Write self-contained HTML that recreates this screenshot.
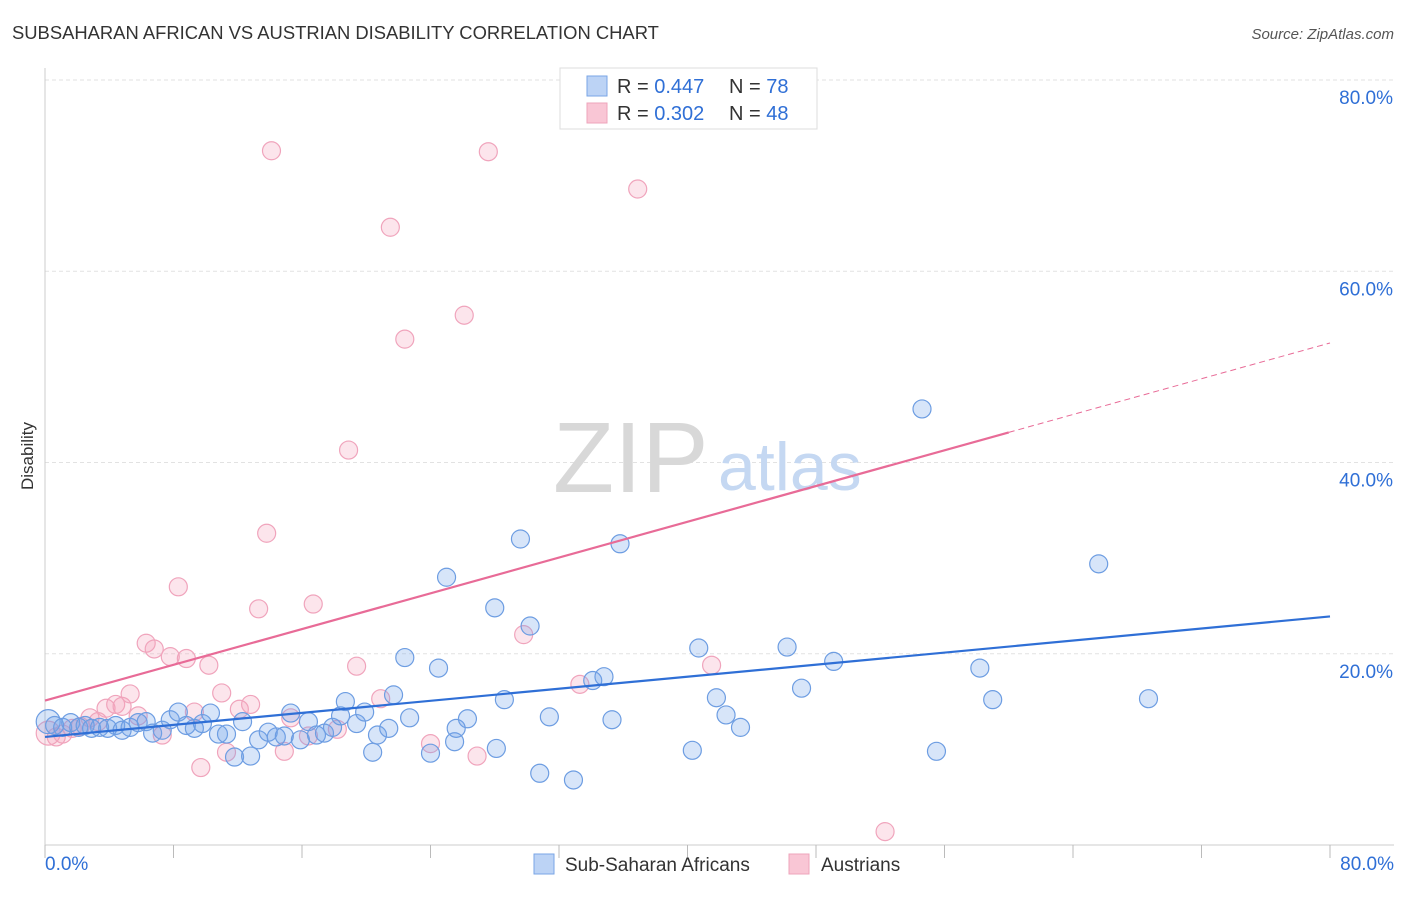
<!DOCTYPE html>
<html><head><meta charset="utf-8">
<style>
body{margin:0;background:#fff;font-family:"Liberation Sans",sans-serif;}
svg text{font-family:"Liberation Sans",sans-serif;}
</style></head>
<body>
<svg width="1406" height="892" viewBox="0 0 1406 892" id="chart">
<text x="12" y="39" font-size="18.4" fill="#333">SUBSAHARAN AFRICAN VS AUSTRIAN DISABILITY CORRELATION CHART</text>
<text x="1394" y="39" font-size="15" fill="#555" font-style="italic" text-anchor="end">Source: ZipAtlas.com</text>
<text x="33" y="456" font-size="17" fill="#333" transform="rotate(-90 33 456)" text-anchor="middle">Disability</text>
<g id="grid"></g>
<g id="yticks"></g>
<g id="xticks"></g>
<text x="553" y="492" font-size="100" fill="#d8d8d8" font-family="Liberation Serif">ZIP</text>
<text x="718" y="490" font-size="68" fill="#c5d8f2">atlas</text>
<g id="pts"></g>
<g id="lines"></g>
<g>
<rect x="560" y="68" width="257" height="61" fill="#fff" stroke="#ddd"/>
<rect x="587" y="76" width="20" height="20" fill="#bcd3f5" stroke="#7aa6e6"/>
<rect x="587" y="103" width="20" height="20" fill="#f9c6d5" stroke="#eea4bb"/>
<text x="617" y="93" font-size="20" fill="#333">R = <tspan fill="#2f6fd6">0.447</tspan></text>
<text x="729" y="93" font-size="20" fill="#333">N = <tspan fill="#2f6fd6">78</tspan></text>
<text x="617" y="120" font-size="20" fill="#333">R = <tspan fill="#2f6fd6">0.302</tspan></text>
<text x="729" y="120" font-size="20" fill="#333">N = <tspan fill="#2f6fd6">48</tspan></text>
</g>
<g>
<rect x="534" y="854" width="20" height="20" fill="#bcd3f5" stroke="#7aa6e6"/>
<text x="565" y="871" font-size="19" fill="#333">Sub-Saharan Africans</text>
<rect x="789" y="854" width="20" height="20" fill="#f9c6d5" stroke="#eea4bb"/>
<text x="821" y="871" font-size="19" fill="#333">Austrians</text>
</g>
<text x="45" y="870" font-size="19" fill="#2f6fd6">0.0%</text>
<text x="1394" y="870" font-size="19" fill="#2f6fd6" text-anchor="end">80.0%</text>
</svg>
<script>
const blueX=[0.2,0.6,1.1,1.6,2.1,2.5,2.9,3.4,3.9,4.4,4.8,5.3,5.8,6.3,6.7,7.3,7.8,8.3,8.8,9.3,9.8,10.3,10.8,11.3,11.8,12.3,12.8,13.3,13.9,14.4,14.9,15.3,15.9,16.4,16.9,17.4,17.9,18.4,18.7,19.4,19.9,20.4,20.7,21.4,21.7,22.4,22.7,24.0,24.5,25.0,25.5,25.6,26.3,28.0,28.1,28.6,29.6,30.2,30.8,31.4,32.9,34.1,34.8,35.3,35.8,40.3,40.7,41.8,42.4,43.3,46.2,47.1,49.1,54.6,55.5,58.2,59.0,65.6,68.7];
const blueY=[12.9,12.5,12.3,12.8,12.3,12.5,12.2,12.3,12.2,12.5,12.0,12.3,12.8,12.9,11.7,12.0,13.1,13.9,12.5,12.2,12.7,13.8,11.6,11.6,9.2,12.9,9.3,11.0,11.8,11.3,11.4,13.8,11.0,12.9,11.5,11.7,12.3,13.5,15.0,12.7,13.9,9.7,11.5,12.2,15.7,19.6,13.3,9.6,18.5,28.0,10.8,12.2,13.2,24.8,10.1,15.2,32.0,22.9,7.5,13.4,6.8,17.2,17.6,13.1,31.5,9.9,20.6,15.4,13.6,12.3,20.7,16.4,19.2,45.6,9.8,18.5,15.2,29.4,15.3];
const pinkX=[0.2,0.7,1.1,1.7,2.2,2.8,3.3,3.8,4.4,4.8,5.3,5.8,6.3,6.8,7.3,7.8,8.3,8.8,9.3,9.7,10.2,11.0,11.3,12.1,12.8,13.3,13.8,14.1,14.9,15.3,16.4,16.7,18.2,18.9,19.4,20.9,21.5,22.4,24.0,26.1,26.9,27.6,29.8,33.3,36.9,41.5,52.3];
const pinkY=[11.7,11.3,11.6,12.2,12.4,13.3,12.9,14.3,14.7,14.5,15.8,13.5,21.1,20.5,11.5,19.7,27.0,19.5,13.9,8.1,18.8,15.9,9.7,14.2,14.7,24.7,32.6,72.6,9.8,13.3,11.4,25.2,12.1,41.3,18.7,15.3,64.6,52.9,10.6,55.4,9.3,72.5,22.0,16.8,68.6,18.8,1.4];
const blueTrend=[11.3,23.9];
const pinkTrend=[15.1,52.5];
const pinkSolidEnd=60;
const yTickVals=[20,40,60,80];
const yTickLabels=["20.0%","40.0%","60.0%","80.0%"];
const xTickVals=[0,8,16,24,32,40,48,56,64,72,80];
const NS="http://www.w3.org/2000/svg";
const X0=45,X1=1330,Y0=845,Y1=80;
const sx=v=>X0+(X1-X0)*v/80, sy=v=>Y0-(Y0-Y1)*v/80;
function mk(tag,attrs,parent){const e=document.createElementNS(NS,tag);for(const k in attrs)e.setAttribute(k,attrs[k]);document.getElementById(parent).appendChild(e);return e;}
yTickVals.forEach((v,i)=>{
 const l=mk('line',{x1:X0,x2:1394,y1:sy(v),y2:sy(v),stroke:'#e2e2e2','stroke-dasharray':'4,3'},'grid');
 
 
 const t=mk('text',{x:1393,y:sy(v)+24,'font-size':19,fill:'#2f6fd6','text-anchor':'end'},'yticks');
 t.textContent=yTickLabels[i];
 
 
});
mk('line',{x1:X0,x2:X0,y1:68,y2:Y0,stroke:'#ccc'},'grid');
mk('line',{x1:X0,x2:1394,y1:Y0,y2:Y0,stroke:'#ccc'},'grid');
xTickVals.forEach(v=>{
 const l=mk('line',{x1:sx(v),x2:sx(v),y1:Y0,y2:Y0+13,stroke:'#bbb'},'xticks');
 
 
});
function pts(xs,ys,fill,stroke,name){
 xs.forEach((x,i)=>{
  const c=mk('circle',{cx:sx(x),cy:sy(ys[i]),r:i===0?12:9,fill:fill,stroke:stroke,'stroke-width':1.2},'pts');
  
  
 });
}
pts(pinkX,pinkY,'rgba(244,160,188,0.28)','#f0a4bc','austrian-point');
pts(blueX,blueY,'rgba(110,160,235,0.28)','#6d9de2','subsaharan-point');
const bl=mk('line',{x1:sx(0),y1:sy(blueTrend[0]),x2:sx(80),y2:sy(blueTrend[1]),stroke:'#2f6fd6','stroke-width':2.2},'lines');


const pm=pinkTrend[0]+(pinkTrend[1]-pinkTrend[0])*pinkSolidEnd/80;
const pl=mk('line',{x1:sx(0),y1:sy(pinkTrend[0]),x2:sx(pinkSolidEnd),y2:sy(pm),stroke:'#e86b97','stroke-width':2.2},'lines');


const pd=mk('line',{x1:sx(pinkSolidEnd),y1:sy(pm),x2:sx(80),y2:sy(pinkTrend[1]),stroke:'#e86b97','stroke-width':1,'stroke-dasharray':'6,4'},'lines');


</script>
</body></html>
